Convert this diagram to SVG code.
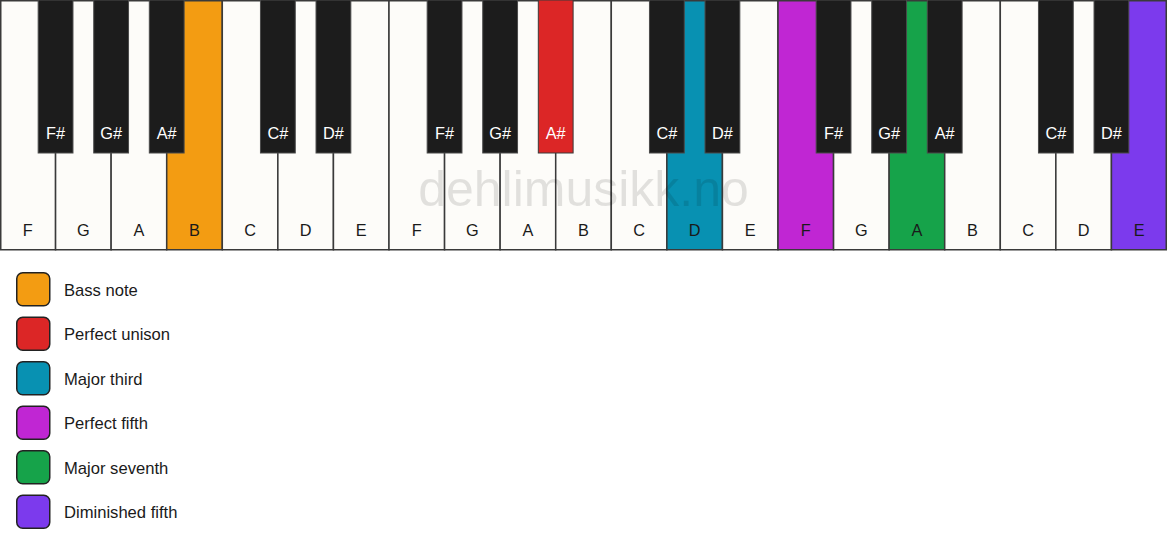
<svg xmlns="http://www.w3.org/2000/svg" width="1167" height="550" viewBox="0 0 1167 550">
<style>
.w{fill:#fdfcf9;stroke:#3a3a3a;stroke-width:1.5}
.b{fill:#1c1c1c;stroke:#4a4a4a;stroke-width:1}
.wl{font-family:"Liberation Sans",Arial,sans-serif;font-size:16.3px;fill:#1a1a1a;text-anchor:middle}
.bl{font-family:"Liberation Sans",Arial,sans-serif;font-size:16.3px;fill:#ffffff;text-anchor:middle}
.lg{fill:none;stroke:#222;stroke-width:1.5}
.lt{font-family:"Liberation Sans",Arial,sans-serif;font-size:16.6px;fill:#1a1a1a}
.wm{font-family:"Liberation Sans",Arial,sans-serif;font-size:50px;fill:#000;fill-opacity:0.11;text-anchor:middle}
</style>
<rect width="1167" height="550" fill="#ffffff"/>
<g id="white-keys">
<g id="wk0"><rect class="w" x="0.75" y="0.75" width="54.82" height="249"/><text class="wl" x="27.79" y="236">F</text></g>
<g id="wk1"><rect class="w" x="55.57" y="0.75" width="55.57" height="249"/><text class="wl" x="83.36" y="236">G</text></g>
<g id="wk2"><rect class="w" x="111.14" y="0.75" width="55.57" height="249"/><text class="wl" x="138.93" y="236">A</text></g>
<g id="wk3"><rect class="w" x="166.71" y="0.75" width="55.57" height="249" style="fill:#f39c12"/><text class="wl" x="194.5" y="236">B</text></g>
<g id="wk4"><rect class="w" x="222.29" y="0.75" width="55.57" height="249"/><text class="wl" x="250.07" y="236">C</text></g>
<g id="wk5"><rect class="w" x="277.86" y="0.75" width="55.57" height="249"/><text class="wl" x="305.64" y="236">D</text></g>
<g id="wk6"><rect class="w" x="333.43" y="0.75" width="55.57" height="249"/><text class="wl" x="361.21" y="236">E</text></g>
<g id="wk7"><rect class="w" x="389" y="0.75" width="55.57" height="249"/><text class="wl" x="416.79" y="236">F</text></g>
<g id="wk8"><rect class="w" x="444.57" y="0.75" width="55.57" height="249"/><text class="wl" x="472.36" y="236">G</text></g>
<g id="wk9"><rect class="w" x="500.14" y="0.75" width="55.57" height="249"/><text class="wl" x="527.93" y="236">A</text></g>
<g id="wk10"><rect class="w" x="555.71" y="0.75" width="55.57" height="249"/><text class="wl" x="583.5" y="236">B</text></g>
<g id="wk11"><rect class="w" x="611.29" y="0.75" width="55.57" height="249"/><text class="wl" x="639.07" y="236">C</text></g>
<g id="wk12"><rect class="w" x="666.86" y="0.75" width="55.57" height="249" style="fill:#0891b2"/><text class="wl" x="694.64" y="236">D</text></g>
<g id="wk13"><rect class="w" x="722.43" y="0.75" width="55.57" height="249"/><text class="wl" x="750.21" y="236">E</text></g>
<g id="wk14"><rect class="w" x="778" y="0.75" width="55.57" height="249" style="fill:#c026d3"/><text class="wl" x="805.79" y="236">F</text></g>
<g id="wk15"><rect class="w" x="833.57" y="0.75" width="55.57" height="249"/><text class="wl" x="861.36" y="236">G</text></g>
<g id="wk16"><rect class="w" x="889.14" y="0.75" width="55.57" height="249" style="fill:#16a34a"/><text class="wl" x="916.93" y="236">A</text></g>
<g id="wk17"><rect class="w" x="944.71" y="0.75" width="55.57" height="249"/><text class="wl" x="972.5" y="236">B</text></g>
<g id="wk18"><rect class="w" x="1000.29" y="0.75" width="55.57" height="249"/><text class="wl" x="1028.07" y="236">C</text></g>
<g id="wk19"><rect class="w" x="1055.86" y="0.75" width="55.57" height="249"/><text class="wl" x="1083.64" y="236">D</text></g>
<g id="wk20"><rect class="w" x="1111.43" y="0.75" width="54.82" height="249" style="fill:#7c3aed"/><text class="wl" x="1139.21" y="236">E</text></g>
</g>
<g id="black-keys">
<g id="bk1"><rect class="b" x="38.17" y="0" width="34.8" height="153"/><text class="bl" x="55.57" y="139">F#</text></g>
<g id="bk2"><rect class="b" x="93.74" y="0" width="34.8" height="153"/><text class="bl" x="111.14" y="139">G#</text></g>
<g id="bk3"><rect class="b" x="149.31" y="0" width="34.8" height="153"/><text class="bl" x="166.71" y="139">A#</text></g>
<g id="bk5"><rect class="b" x="260.46" y="0" width="34.8" height="153"/><text class="bl" x="277.86" y="139">C#</text></g>
<g id="bk6"><rect class="b" x="316.03" y="0" width="34.8" height="153"/><text class="bl" x="333.43" y="139">D#</text></g>
<g id="bk8"><rect class="b" x="427.17" y="0" width="34.8" height="153"/><text class="bl" x="444.57" y="139">F#</text></g>
<g id="bk9"><rect class="b" x="482.74" y="0" width="34.8" height="153"/><text class="bl" x="500.14" y="139">G#</text></g>
<g id="bk10"><rect class="b" x="538.31" y="0" width="34.8" height="153" style="fill:#dc2626;stroke:#3a3a3a"/><text class="bl" x="555.71" y="139">A#</text></g>
<g id="bk12"><rect class="b" x="649.46" y="0" width="34.8" height="153"/><text class="bl" x="666.86" y="139">C#</text></g>
<g id="bk13"><rect class="b" x="705.03" y="0" width="34.8" height="153"/><text class="bl" x="722.43" y="139">D#</text></g>
<g id="bk15"><rect class="b" x="816.17" y="0" width="34.8" height="153"/><text class="bl" x="833.57" y="139">F#</text></g>
<g id="bk16"><rect class="b" x="871.74" y="0" width="34.8" height="153"/><text class="bl" x="889.14" y="139">G#</text></g>
<g id="bk17"><rect class="b" x="927.31" y="0" width="34.8" height="153"/><text class="bl" x="944.71" y="139">A#</text></g>
<g id="bk19"><rect class="b" x="1038.46" y="0" width="34.8" height="153"/><text class="bl" x="1055.86" y="139">C#</text></g>
<g id="bk20"><rect class="b" x="1094.03" y="0" width="34.8" height="153"/><text class="bl" x="1111.43" y="139">D#</text></g>
</g>
<text class="wm" x="583.5" y="206">dehlimusikk.no</text>
<g id="legend">
<g id="lg-bass"><rect class="lg" x="16.75" y="272.75" width="33" height="33" rx="6" style="fill:#f39c12"/><text class="lt" x="64" y="295.5">Bass note</text></g>
<g id="lg-unison"><rect class="lg" x="16.75" y="317.25" width="33" height="33" rx="6" style="fill:#dc2626"/><text class="lt" x="64" y="340">Perfect unison</text></g>
<g id="lg-third"><rect class="lg" x="16.75" y="361.75" width="33" height="33" rx="6" style="fill:#0891b2"/><text class="lt" x="64" y="384.5">Major third</text></g>
<g id="lg-fifth"><rect class="lg" x="16.75" y="406.25" width="33" height="33" rx="6" style="fill:#c026d3"/><text class="lt" x="64" y="429">Perfect fifth</text></g>
<g id="lg-seventh"><rect class="lg" x="16.75" y="450.75" width="33" height="33" rx="6" style="fill:#16a34a"/><text class="lt" x="64" y="473.5">Major seventh</text></g>
<g id="lg-dim"><rect class="lg" x="16.75" y="495.25" width="33" height="33" rx="6" style="fill:#7c3aed"/><text class="lt" x="64" y="518">Diminished fifth</text></g>
</g>
</svg>
